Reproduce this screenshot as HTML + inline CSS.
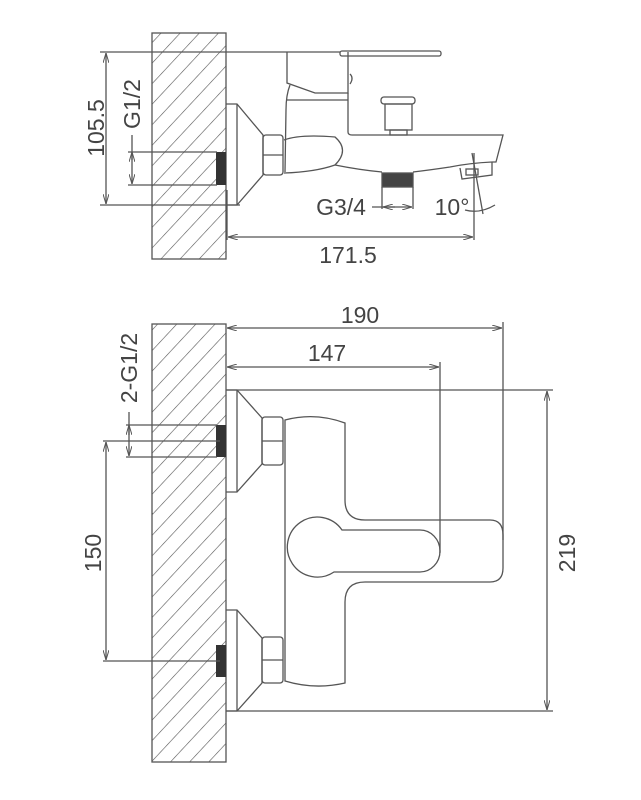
<!DOCTYPE html>
<html><head><meta charset="utf-8"><style>
html,body{margin:0;padding:0;background:#fff;}
svg{display:block;}
text{font-family:"Liberation Sans",sans-serif;fill:#444;font-size:23px;}
</style></head><body>
<svg width="641" height="800" viewBox="0 0 641 800" xmlns="http://www.w3.org/2000/svg">
<defs>
<pattern id="h" patternUnits="userSpaceOnUse" width="14" height="14" patternTransform="rotate(43)">
<line x1="0" y1="0" x2="0" y2="14" stroke="#555" stroke-width="1.2"/>
</pattern>
<marker id="a" viewBox="0 0 10 6" refX="10" refY="3" markerWidth="10" markerHeight="6" orient="auto-start-reverse" markerUnits="userSpaceOnUse">
<path d="M0,0 L10,3 L0,6" fill="none" stroke="#555" stroke-width="1"/>
</marker>
</defs>
<g fill="none" stroke="#555" stroke-width="1.3">
<rect x="152" y="33" width="74" height="226" fill="url(#h)"/>
<rect x="216" y="152" width="10" height="33" fill="#333" stroke="none"/>
<line x1="100" y1="52" x2="340" y2="52"/>
<line x1="100" y1="205" x2="240" y2="205"/>
<line x1="106" y1="53" x2="106" y2="204" marker-start="url(#a)" marker-end="url(#a)"/>
<line x1="128" y1="152" x2="217" y2="152"/>
<line x1="128" y1="185" x2="217" y2="185"/>
<line x1="132" y1="135" x2="132" y2="184" marker-end="url(#a)"/>
<line x1="132" y1="152" x2="132" y2="160" marker-start="url(#a)"/>
<path d="M226,104 L237,104 L263,135 L263,175 L237,205 L226,205"/>
<line x1="237" y1="104" x2="237" y2="205"/>
<rect x="263" y="135" width="20" height="40" rx="3"/>
<line x1="263" y1="155" x2="283" y2="155"/>
<rect x="340" y="51" width="101" height="5" rx="2"/>
<path d="M287,52 L287,83 L315,93 L348,93 L348,52"/>
<path d="M350,74 Q354,78 350,84"/>
<line x1="287" y1="100" x2="348" y2="100"/>
<path d="M290,85 Q286,95 286,110 L285,172"/>
<path d="M348,93 L348,132 Q348,135 352,135 L503,135 L496,162 L492,162"/>
<path d="M284,140 Q300,134 335,137 Q350,150 335,165"/>
<path d="M284,173 Q315,172 335,165 Q360,170 382,172"/>
<path d="M413,172 Q430,170 450,167 Q470,163 492,162"/>
<path d="M460,168 L462,179 L492,175 L492,162"/>
<rect x="466" y="169" width="12" height="6"/>
<rect x="381" y="97" width="34" height="7" rx="3"/>
<rect x="385" y="104" width="27" height="26"/>
<rect x="390" y="130" width="17" height="5"/>
<rect x="382" y="173" width="31" height="14" fill="#444"/>
<line x1="382" y1="187" x2="382" y2="209"/>
<line x1="413" y1="187" x2="413" y2="209"/>
<line x1="372" y1="207" x2="412" y2="207" marker-end="url(#a)"/>
<line x1="383" y1="207" x2="395" y2="207" marker-start="url(#a)"/>
<line x1="474" y1="153" x2="474" y2="240"/>
<line x1="472" y1="153" x2="483" y2="214"/>
<path d="M465,210 Q480,214 495,205"/>
<line x1="227" y1="190" x2="227" y2="240"/>
<line x1="228" y1="237" x2="473" y2="237" marker-start="url(#a)" marker-end="url(#a)"/>

<rect x="152" y="324" width="74" height="438" fill="url(#h)"/>
<rect x="216" y="425" width="10" height="32" fill="#333" stroke="none"/>
<rect x="216" y="645" width="10" height="32" fill="#333" stroke="none"/>
<line x1="227" y1="328" x2="502" y2="328" marker-start="url(#a)" marker-end="url(#a)"/>
<line x1="503" y1="322" x2="503" y2="540"/>
<line x1="227" y1="367" x2="439" y2="367" marker-start="url(#a)" marker-end="url(#a)"/>
<line x1="440" y1="362" x2="440" y2="553"/>
<line x1="226" y1="390" x2="553" y2="390"/>
<line x1="226" y1="711" x2="553" y2="711"/>
<line x1="547" y1="391" x2="547" y2="710" marker-start="url(#a)" marker-end="url(#a)"/>
<line x1="126" y1="425" x2="217" y2="425"/>
<line x1="126" y1="457" x2="217" y2="457"/>
<line x1="129" y1="412" x2="129" y2="456" marker-end="url(#a)"/>
<line x1="129" y1="425" x2="129" y2="435" marker-start="url(#a)"/>
<line x1="103" y1="441" x2="220" y2="441"/>
<line x1="103" y1="661" x2="220" y2="661"/>
<line x1="106" y1="442" x2="106" y2="660" marker-start="url(#a)" marker-end="url(#a)"/>
<path d="M226,390 L237,390 L262,418 L262,464 L237,492 L226,492"/>
<line x1="237" y1="390" x2="237" y2="492"/>
<rect x="262" y="417" width="21" height="48" rx="3"/>
<line x1="262" y1="441" x2="283" y2="441"/>
<path d="M226,610 L237,610 L262,638 L262,683 L237,711 L226,711"/>
<line x1="237" y1="610" x2="237" y2="711"/>
<rect x="262" y="637" width="21" height="46" rx="3"/>
<line x1="262" y1="660" x2="283" y2="660"/>
<path d="M285,420 Q315,412 345,423 L345,500 Q345,520 365,520 L490,520 Q503,520 503,535 L503,568 Q503,582 490,582 L365,582 Q345,582 345,602 L345,683 Q315,690 285,681 Z"/>
<path d="M342,530 L420,530 A20,21 0 0 1 420,572 L334,572 A30,30 0 1 1 342,530 Z"/>
</g>
<g>
<text transform="translate(104,128) rotate(-90)" text-anchor="middle">105.5</text>
<text transform="translate(140,104) rotate(-90)" text-anchor="middle">G1/2</text>
<text x="341" y="215" text-anchor="middle">G3/4</text>
<text x="452" y="215" text-anchor="middle">10°</text>
<text x="348" y="263" text-anchor="middle">171.5</text>
<text x="360" y="323" text-anchor="middle">190</text>
<text x="327" y="361" text-anchor="middle">147</text>
<text transform="translate(137,368) rotate(-90)" text-anchor="middle">2-G1/2</text>
<text transform="translate(101,553) rotate(-90)" text-anchor="middle">150</text>
<text transform="translate(575,553) rotate(-90)" text-anchor="middle">219</text>
</g>
</svg>
</body></html>
